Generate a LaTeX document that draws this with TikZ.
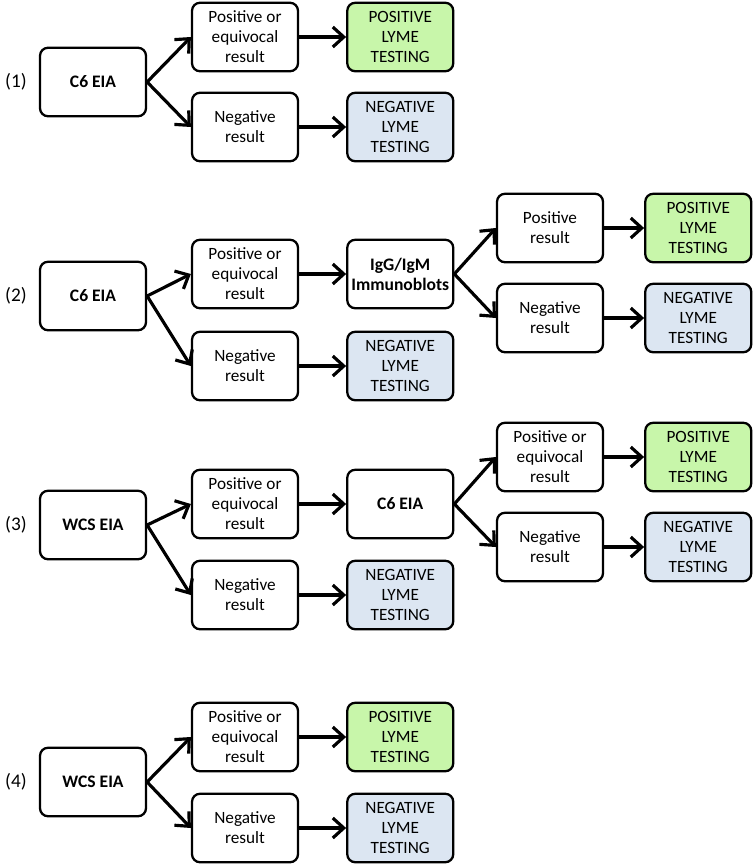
\documentclass[tikz,border=0pt]{standalone}
\usepackage{fontspec}
\setmainfont{Carlito}
\usetikzlibrary{arrows.meta,positioning}
\definecolor{posgreen}{RGB}{200,246,170}
\definecolor{negblue}{RGB}{220,230,242}
\tikzstyle{resultbox}=[rectangle,rounded corners=0.16cm,draw=black,line width=1.3pt,fill=white,minimum width=2.12cm,minimum height=1.37cm,align=center,inner sep=1pt,font=\fontsize{9.8}{11.4}\selectfont]
\tikzstyle{testbox}=[resultbox,font=\fontsize{10}{11.4}\selectfont\bfseries]
\tikzstyle{posbox}=[resultbox,fill=posgreen]
\tikzstyle{negbox}=[resultbox,fill=negblue]
\tikzstyle{rowlabel}=[font=\fontsize{11}{12}\selectfont]
\tikzstyle{flow}=[->,line width=1.8pt]

\begin{document}
\begin{tikzpicture}[x=0.02cm,y=-0.02cm,node distance=0.94cm,>={Straight Barb[length=2.2mm,width=4mm]}]
  \useasboundingbox (0,0) rectangle (752,866);

  % (1) C6 EIA alone
  \node [rowlabel] (l1) at (16,82) {(1)};
  \node [testbox] (a1) at (93,82) {C6 EIA};
  \node [resultbox] (a1p) at (245,37) {Positive or\\equivocal\\result};
  \node [resultbox] (a1n) at (245,127) {Negative\\result};
  \node [posbox] (a1pp) [right=of a1p] {POSITIVE\\LYME\\TESTING};
  \node [negbox] (a1nn) [right=of a1n] {NEGATIVE\\LYME\\TESTING};

  \path (a1.east) edge [flow] (a1p.west)
        (a1.east) edge [flow] (a1n.west)
        (a1p) edge [flow] (a1pp)
        (a1n) edge [flow] (a1nn);

  % (2) C6 EIA then immunoblots
  \node [rowlabel] (l2) at (16,296) {(2)};
  \node [testbox] (a2) at (93,296) {C6 EIA};
  \node [resultbox] (a2p) at (245,274) {Positive or\\equivocal\\result};
  \node [resultbox] (a2n) at (245,366) {Negative\\result};
  \node [testbox] (a2b) [right=of a2p] {IgG/IgM\\Immunoblots};
  \node [negbox] (a2nn) [right=of a2n] {NEGATIVE\\LYME\\TESTING};
  \node [resultbox] (a2bp) at (550,228) {Positive\\result};
  \node [resultbox] (a2bn) at (550,318) {Negative\\result};
  \node [posbox] (a2bpp) [right=0.8cm of a2bp] {POSITIVE\\LYME\\TESTING};
  \node [negbox] (a2bnn) [right=0.8cm of a2bn] {NEGATIVE\\LYME\\TESTING};

  \path (a2.east) edge [flow] (a2p.west)
        (a2.east) edge [flow] (a2n.west)
        (a2p) edge [flow] (a2b)
        (a2n) edge [flow] (a2nn)
        (a2b.east) edge [flow] (a2bp.west)
        (a2b.east) edge [flow] (a2bn.west)
        (a2bp) edge [flow] (a2bpp)
        (a2bn) edge [flow] (a2bnn);

  % (3) WCS EIA then C6 EIA
  \node [rowlabel] (l3) at (16,525) {(3)};
  \node [testbox] (a3) at (93,525) {WCS EIA};
  \node [resultbox] (a3p) at (245,504) {Positive or\\equivocal\\result};
  \node [resultbox] (a3n) at (245,595) {Negative\\result};
  \node [testbox] (a3b) [right=of a3p] {C6 EIA};
  \node [negbox] (a3nn) [right=of a3n] {NEGATIVE\\LYME\\TESTING};
  \node [resultbox] (a3bp) at (550,457) {Positive or\\equivocal\\result};
  \node [resultbox] (a3bn) at (550,547) {Negative\\result};
  \node [posbox] (a3bpp) [right=0.8cm of a3bp] {POSITIVE\\LYME\\TESTING};
  \node [negbox] (a3bnn) [right=0.8cm of a3bn] {NEGATIVE\\LYME\\TESTING};

  \path (a3.east) edge [flow] (a3p.west)
        (a3.east) edge [flow] (a3n.west)
        (a3p) edge [flow] (a3b)
        (a3n) edge [flow] (a3nn)
        (a3b.east) edge [flow] (a3bp.west)
        (a3b.east) edge [flow] (a3bn.west)
        (a3bp) edge [flow] (a3bpp)
        (a3bn) edge [flow] (a3bnn);

  % (4) WCS EIA alone
  \node [rowlabel] (l4) at (16,782) {(4)};
  \node [testbox] (a4) at (93,782) {WCS EIA};
  \node [resultbox] (a4p) at (245,737) {Positive or\\equivocal\\result};
  \node [resultbox] (a4n) at (245,828) {Negative\\result};
  \node [posbox] (a4pp) [right=of a4p] {POSITIVE\\LYME\\TESTING};
  \node [negbox] (a4nn) [right=of a4n] {NEGATIVE\\LYME\\TESTING};

  \path (a4.east) edge [flow] (a4p.west)
        (a4.east) edge [flow] (a4n.west)
        (a4p) edge [flow] (a4pp)
        (a4n) edge [flow] (a4nn);
\end{tikzpicture}
\end{document}
